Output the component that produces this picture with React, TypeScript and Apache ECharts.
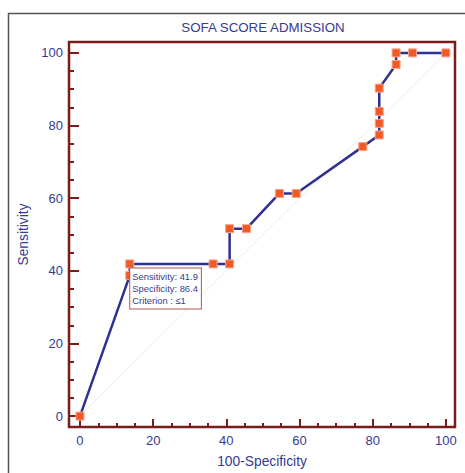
import React, { useEffect, useRef } from "react";
import * as echarts from "echarts";

const titleText = "SOFA SCORE ADMISSION";
const xName = "100-Specificity";
const yName = "Sensitivity";

// ROC points: x = 100-Specificity, y = Sensitivity
const fpr = [0, 13.6, 13.6, 36.4, 40.9, 40.9, 45.5, 54.5, 59.1, 77.3, 81.8, 81.8, 81.8, 81.8, 86.4, 86.4, 90.9, 100];
const tpr = [0, 38.7, 41.9, 41.9, 41.9, 51.6, 51.6, 61.3, 61.3, 74.2, 77.4, 80.6, 83.9, 90.3, 96.8, 100, 100, 100];

const diagX = [0, 100];
const diagY = [0, 100];

const majorTicks = [0, 20, 40, 60, 80, 100];
const minorTicks = [5, 10, 15, 25, 30, 35, 45, 50, 55, 65, 70, 75, 85, 90, 95];

const bestIndex = 2;
const bestSensitivity = "41.9";
const bestSpecificity = "86.4";
const bestCriterion = "≤1";

const NAVY = "#353a94";
const MAROON = "#7a1c1c";
const FONT = "'Liberation Sans', Arial, sans-serif";

export default function App() {
  const ref = useRef<HTMLDivElement>(null);

  useEffect(() => {
    if (!ref.current) return;
    const chart = echarts.init(ref.current, null, { renderer: "svg" });

    const rocData = fpr.map((x, i) => {
      const item: any = { value: [x, tpr[i]] };
      if (i === bestIndex) {
        item.label = {
          show: true,
          position: [5, 9],
          align: "left",
          verticalAlign: "top",
          formatter: [
            "Sensitivity: " + bestSensitivity,
            "Specificity: " + bestSpecificity,
            "Criterion : " + bestCriterion,
          ].join("\n"),
          color: NAVY,
          fontSize: 9.4,
          fontFamily: FONT,
          lineHeight: 12,
          backgroundColor: "#ffffff",
          borderColor: "#b5574d",
          borderWidth: 1,
          padding: [2, 3, 2, 2],
        };
      }
      return item;
    });

    const xBase = {
      type: "value",
      min: -3,
      max: 102.5,
      position: "bottom",
      splitLine: { show: false },
      axisLine: { show: false, onZero: false },
    };
    const yBase = {
      type: "value",
      min: -3,
      max: 103,
      position: "left",
      splitLine: { show: false },
      axisLine: { show: false, onZero: false },
    };

    chart.setOption({
      animation: false,
      backgroundColor: "#ffffff",
      title: {
        text: titleText,
        left: 263,
        top: 21,
        textAlign: "center",
        padding: 0,
        textStyle: { color: NAVY, fontSize: 13.3, fontWeight: "normal", fontFamily: FONT },
      },
      graphic: [
        {
          type: "rect",
          shape: { x: 8.5, y: 13.5, width: 500, height: 500 },
          style: { fill: "none", stroke: "#555555", lineWidth: 1.5 },
          silent: true,
        },
      ],
      grid: {
        left: 69,
        right: 10,
        top: 42,
        bottom: 44,
        show: true,
        borderColor: MAROON,
        borderWidth: 2.5,
        backgroundColor: "transparent",
      },
      xAxis: [
        {
          ...xBase,
          name: xName,
          nameLocation: "middle",
          nameGap: 27,
          nameTextStyle: { color: NAVY, fontSize: 13.8, fontFamily: FONT },
          axisTick: {
            show: true,
            inside: true,
            length: 8,
            customValues: majorTicks,
            lineStyle: { color: MAROON, width: 2 },
          },
          axisLabel: {
            show: true,
            customValues: majorTicks,
            color: NAVY,
            fontSize: 13,
            fontFamily: FONT,
            margin: 7,
          },
        },
        {
          ...xBase,
          axisTick: {
            show: true,
            inside: true,
            length: 4,
            customValues: minorTicks,
            lineStyle: { color: MAROON, width: 2 },
          },
          axisLabel: { show: false },
        },
      ],
      yAxis: [
        {
          ...yBase,
          name: yName,
          nameLocation: "middle",
          nameGap: 36,
          nameTextStyle: { color: NAVY, fontSize: 13.8, fontFamily: FONT },
          axisTick: {
            show: true,
            inside: true,
            length: 10,
            customValues: majorTicks,
            lineStyle: { color: MAROON, width: 2 },
          },
          axisLabel: {
            show: true,
            customValues: majorTicks,
            color: NAVY,
            fontSize: 13,
            fontFamily: FONT,
            margin: 6,
          },
        },
        {
          ...yBase,
          axisTick: {
            show: true,
            inside: true,
            length: 5,
            customValues: minorTicks,
            lineStyle: { color: MAROON, width: 2 },
          },
          axisLabel: { show: false },
        },
      ],
      series: [
        {
          type: "line",
          xAxisIndex: 0,
          yAxisIndex: 0,
          data: diagX.map((x, i) => [x, diagY[i]]),
          symbol: "none",
          lineStyle: { color: "#ececec", width: 1 },
          silent: true,
          z: 1,
        },
        {
          type: "line",
          xAxisIndex: 0,
          yAxisIndex: 0,
          data: rocData,
          symbol: "rect",
          symbolSize: 8,
          showAllSymbol: true,
          lineStyle: { color: "#2e3192", width: 2.5 },
          itemStyle: { color: "#f15a24", borderColor: "#f7a48a", borderWidth: 1 },
          z: 3,
        },
      ],
    });

    return () => chart.dispose();
  }, []);

  return (
    <div
      ref={ref}
      style={{ position: "absolute", left: 0, top: 0, width: 465, height: 473 }}
    />
  );
}
